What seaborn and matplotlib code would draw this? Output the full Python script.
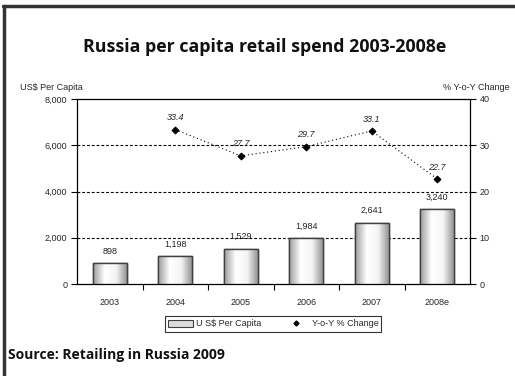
import numpy as np
import pandas as pd
import matplotlib
matplotlib.use("Agg")
import matplotlib.pyplot as plt
import seaborn as sns
from matplotlib.colors import LinearSegmentedColormap
from matplotlib.patches import Rectangle
from matplotlib.lines import Line2D

years = ["2003", "2004", "2005", "2006", "2007", "2008e"]
spend = [898, 1198, 1529, 1984, 2641, 3240]
spend_labels = ["898", "1,198", "1,529", "1,984", "2,641", "3,240"]
yoy_years = ["2004", "2005", "2006", "2007", "2008e"]
yoy = [33.4, 27.7, 29.7, 33.1, 22.7]

sns.set_theme(style="white")
plt.rcParams['font.family'] = ['Liberation Sans', 'DejaVu Sans']

fig = plt.figure(figsize=(5.15, 3.76), dpi=100)
ax = fig.add_axes([77/515, 1-284/376, (470-77)/515, (284-99)/376])

df = pd.DataFrame({"year": years, "spend": spend})
sns.barplot(data=df, x="year", y="spend", ax=ax, width=0.52, color="#d8d8d8",
            edgecolor="#404040", linewidth=1.0, zorder=3)

ax.set_xlim(-0.5, 5.5)
ax.set_ylim(0, 8000)
ax.set_yticks([0, 2000, 4000, 6000, 8000])
ax.set_yticklabels(["0", "2,000", "4,000", "6,000", "8,000"])
ax.set_xlabel("")
ax.set_ylabel("")
for y in [2000, 4000, 6000]:
    ax.axhline(y, color="black", linestyle=(0, (2.5, 1.8)), linewidth=0.8, zorder=1)

# gradient fill in bars
cmap = LinearSegmentedColormap.from_list("g", ["#9a9a9a", "#ffffff", "#f4f4f4", "#8a8a8a"])
grad = np.linspace(0, 1, 256).reshape(1, -1)
for p in ax.patches:
    x0, y0 = p.get_x(), p.get_y()
    w, h = p.get_width(), p.get_height()
    im = ax.imshow(grad, cmap=cmap, aspect="auto", extent=[x0, x0 + w, y0, y0 + h],
                   zorder=3.5)
    im.set_clip_path(p)
    r = Rectangle((x0, y0), w, h, fill=False, edgecolor="#404040", linewidth=1.0, zorder=4)
    ax.add_patch(r)
ax.set_xlim(-0.5, 5.5)
ax.set_ylim(0, 8000)

for i, (v, lab) in enumerate(zip(spend, spend_labels)):
    ax.text(i, v + 330, lab, ha="center", va="bottom", fontsize=6.5, zorder=5)

for s in ["left", "bottom", "top", "right"]:
    ax.spines[s].set_visible(True)
    ax.spines[s].set_color("black")
    ax.spines[s].set_linewidth(0.9)

ax.tick_params(axis="y", which="both", left=True, length=4, width=0.8, color="black",
               labelsize=6.5, pad=3)
ax.set_xticks(np.arange(6))
ax.set_xticklabels(years)
ax.tick_params(axis="x", which="major", bottom=False, length=0, labelsize=6.5, pad=10)
ax.set_xticks(np.arange(0.5, 5.5, 1.0), minor=True)
ax.tick_params(axis="x", which="minor", bottom=True, length=4, width=0.8, color="black",
               direction="out")

ax2 = ax.twinx()
xpos = [years.index(y) for y in yoy_years]
sns.lineplot(x=xpos, y=yoy, ax=ax2, color="black", linestyle=(0, (1, 2.5)),
             linewidth=0.8, marker="D", markersize=3.5, markeredgecolor="black", zorder=6)
ax2.set_ylim(0, 40)
ax2.set_yticks([0, 10, 20, 30, 40])
ax2.set_xlim(-0.5, 5.5)
ax2.tick_params(axis="y", right=True, length=4, width=0.8, color="black", labelsize=6.5, pad=3)
for s in ax2.spines.values():
    s.set_visible(False)
for x, v in zip(xpos, yoy):
    ax2.text(x, v + 1.6, f"{v}", ha="center", va="bottom", fontsize=6.5, style="italic", zorder=7)

fig.text(20/515, 1-87/376, "US$ Per Capita", fontsize=6.5, ha="left", va="center")
fig.text(510/515, 1-87/376, "% Y-o-Y Change", fontsize=6.5, ha="right", va="center")

fig.text(265/515, 1-47/376, "Russia per capita retail spend 2003-2008e",
         fontsize=12.8, fontweight="bold", ha="center", va="center",
         family=["Open Sans", "DejaVu Sans"], color="#111111")
fig.text(8/515, 1-355/376, "Source: Retailing in Russia 2009", fontsize=10,
         fontweight="bold", ha="left", va="center", family=["Open Sans", "DejaVu Sans"],
         color="#111111")

handles = [Rectangle((0, 0), 1, 1, facecolor="#dcdcdc", edgecolor="#404040", linewidth=0.8),
           Line2D([], [], color="black", marker="D", markersize=2.5, linestyle="none")]
leg = fig.legend(handles, ["U S$ Per Capita", "Y-o-Y % Change"], loc="center",
                 bbox_to_anchor=(273/515, 1-324/376), ncol=2, fontsize=6.5, frameon=True,
                 fancybox=False, edgecolor="black", handlelength=2.8, handletextpad=0.3,
                 columnspacing=2.5, borderpad=0.35)
leg.get_frame().set_linewidth(0.8)

# outer frame (left and top)
fig.add_artist(Line2D([4/515, 4/515], [0, 1-6/376], transform=fig.transFigure,
                      color="#333333", linewidth=2.5))
fig.add_artist(Line2D([3/515, 1], [1-6/376, 1-6/376], transform=fig.transFigure,
                      color="#333333", linewidth=2.5))

fig.savefig("out.png", dpi=100)
